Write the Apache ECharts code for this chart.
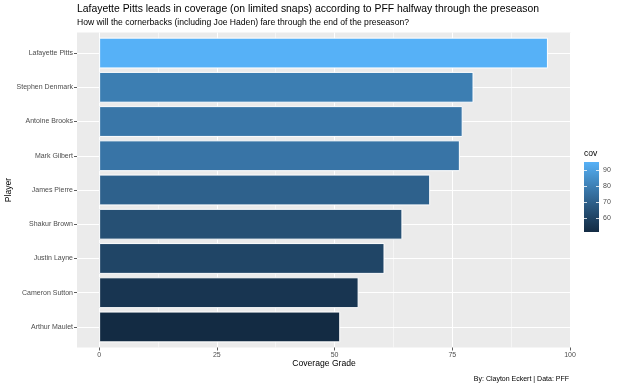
<!DOCTYPE html>
<html><head><meta charset="utf-8">
<script src="https://cdn.jsdelivr.net/npm/echarts@6/dist/echarts.min.js"></script>
<style>html,body{margin:0;padding:0;background:#fff}#c{width:620px;height:386px}</style>
</head><body><div id="c"></div><script>
// ---- data ----
const players = ['Lafayette Pitts','Stephen Denmark','Antoine Brooks','Mark Gilbert','James Pierre','Shakur Brown','Justin Layne','Cameron Sutton','Arthur Maulet'];
const grades = [95.3, 79.5, 77.2, 76.6, 70.3, 64.4, 60.6, 55.1, 51.2];
const xTicks = [0, 25, 50, 75, 100];
const xMinorTicks = [12.5, 37.5, 62.5, 87.5];
const legendTicks = [60, 70, 80, 90];
const titleText = 'Lafayette Pitts leads in coverage (on limited snaps) according to PFF halfway through the preseason';
const subtitleText = 'How will the cornerbacks (including Joe Haden) fare through the end of the preseason?';
const captionText = 'By: Clayton Eckert | Data: PFF';

// ---- colour scale (ggplot default gradient, Lab interpolation) ----
function hex2rgb(h){return [1,3,5].map(i=>parseInt(h.substr(i,2),16));}
function lin(c){c/=255;return c<=0.04045?c/12.92:Math.pow((c+0.055)/1.055,2.4);}
function unlin(c){c=c<=0.0031308?12.92*c:1.055*Math.pow(c,1/2.4)-0.055;return Math.max(0,Math.min(255,Math.round(c*255)));}
const W=[0.95047,1,1.08883];
function f(t){return t>0.008856?Math.cbrt(t):(7.787*t+16/116);}
function fi(t){return t>0.206893?t*t*t:(t-16/116)/7.787;}
function rgb2lab(rgb){const [r,g,b]=rgb.map(lin);
 const X=(0.4124*r+0.3576*g+0.1805*b)/W[0],Y=(0.2126*r+0.7152*g+0.0722*b)/W[1],Z=(0.0193*r+0.1192*g+0.9505*b)/W[2];
 return [116*f(Y)-16,500*(f(X)-f(Y)),200*(f(Y)-f(Z))];}
function lab2hex(l){const fy=(l[0]+16)/116,fx=fy+l[1]/500,fz=fy-l[2]/200;
 const X=fi(fx)*W[0],Y=fi(fy)*W[1],Z=fi(fz)*W[2];
 const r=3.2406*X-1.5372*Y-0.4986*Z,g=-0.9689*X+1.8758*Y+0.0415*Z,b=0.0557*X-0.2040*Y+1.0570*Z;
 return '#'+[r,g,b].map(c=>unlin(c).toString(16).padStart(2,'0')).join('');}
const lo=rgb2lab(hex2rgb('#132B43')),hi=rgb2lab(hex2rgb('#56B1F7'));
function colorAt(t){return lab2hex(lo.map((v,k)=>v+(hi[k]-v)*t));}

const FONT='"Liberation Sans", Arial, sans-serif';
const gMin=Math.min(...grades), gMax=Math.max(...grades);
const X_MIN=-4.7, X_MAX=100.2;
const P_LEFT=77, P_TOP=32.5, P_W=494, P_H=315;
const band=P_H/(players.length-1+1.2);
const gradStops=[];for(let i=0;i<=12;i++){gradStops.push({offset:i/12,color:colorAt(1-i/12)});}

const chart=echarts.init(document.getElementById('c'),null,{renderer:'canvas'});
chart.setOption({
 animation:false,
 textStyle:{fontFamily:FONT},
 title:[
  {text:titleText,left:77,top:4,padding:0,textStyle:{fontSize:10.4,fontWeight:'normal',color:'#000',fontFamily:FONT}},
  {text:subtitleText,left:77,top:18,padding:0,textStyle:{fontSize:8.6,fontWeight:'normal',color:'#000',fontFamily:FONT}},
  {text:captionText,right:51,top:376,padding:0,textStyle:{fontSize:7,fontWeight:'normal',color:'#000',fontFamily:FONT}},
  {text:'cov',left:584,top:149.5,padding:0,textStyle:{fontSize:8.6,fontWeight:'normal',color:'#000',fontFamily:FONT}}
 ],
 grid:[
  {left:P_LEFT,top:P_TOP,width:P_W,height:P_H,show:true,backgroundColor:'#EBEBEB',borderWidth:0,containLabel:false,outerBoundsMode:'none'},
  {left:P_LEFT,top:P_TOP+0.1*band,width:P_W,height:band*players.length,containLabel:false,outerBoundsMode:'none'},
  {left:584,top:162,width:15,height:70,containLabel:false,outerBoundsMode:'none'}
 ],
 xAxis:[
  {gridIndex:0,type:'value',min:X_MIN,max:X_MAX,position:'bottom',
   name:'Coverage Grade',nameLocation:'middle',nameGap:12,nameMoveOverlap:false,nameTextStyle:{fontSize:8.6,color:'#000',fontFamily:FONT},
   axisLine:{show:false,onZero:false},
   axisTick:{show:true,length:3,lineStyle:{color:'#333',width:0.8},customValues:xTicks},
   axisLabel:{show:true,fontSize:7,color:'#4D4D4D',margin:4,customValues:xTicks,fontFamily:FONT},
   splitLine:{show:true,lineStyle:{color:'#fff',width:1}}},
  {gridIndex:0,type:'value',min:X_MIN,max:X_MAX,position:'top',
   axisLine:{show:false,onZero:false},axisLabel:{show:false},
   axisTick:{show:false,customValues:xMinorTicks},
   splitLine:{show:true,lineStyle:{color:'#fff',width:0.5}}},
  {gridIndex:1,type:'value',min:X_MIN,max:X_MAX,show:false,axisLine:{onZero:false}},
  {gridIndex:2,type:'category',data:[''],show:false,axisLine:{onZero:false}}
 ],
 yAxis:[
  {gridIndex:0,type:'value',min:-0.6,max:players.length-1+0.6,inverse:true,
   name:'Player',nameLocation:'middle',nameGap:64,nameMoveOverlap:false,nameTextStyle:{fontSize:8.6,color:'#000',fontFamily:FONT},
   axisLine:{show:false,onZero:false},
   axisTick:{show:true,length:3,lineStyle:{color:'#333',width:0.8},customValues:players.map((p,i)=>i)},
   axisLabel:{show:true,fontSize:7,color:'#4D4D4D',margin:4,customValues:players.map((p,i)=>i),
     formatter:v=>players[Math.round(v)]||'',fontFamily:FONT},
   splitLine:{show:true,lineStyle:{color:'#fff',width:1}}},
  {gridIndex:1,type:'category',data:players,inverse:true,show:false,axisLine:{onZero:false}},
  {gridIndex:2,type:'value',min:gMin,max:gMax,position:'left',z:10,
   axisLine:{show:false,onZero:false},axisLabel:{show:false},splitLine:{show:false},
   axisTick:{show:true,inside:true,length:3,lineStyle:{color:'#fff',width:0.8},customValues:legendTicks}},
  {gridIndex:2,type:'value',min:gMin,max:gMax,position:'right',z:10,
   axisLine:{show:false,onZero:false},splitLine:{show:false},
   axisTick:{show:true,inside:true,length:3,lineStyle:{color:'#fff',width:0.8},customValues:legendTicks},
   axisLabel:{show:true,fontSize:7,color:'#4D4D4D',margin:4,customValues:legendTicks,fontFamily:FONT}}
 ],
 series:[
  {type:'bar',xAxisIndex:2,yAxisIndex:1,
   data:grades.map((g,i)=>({value:[g,players[i]],itemStyle:{color:colorAt((g-gMin)/(gMax-gMin))}})),
   barCategoryGap:'10%',
   itemStyle:{borderColor:'#ffffff',borderWidth:1},
   silent:true},
  {type:'bar',xAxisIndex:3,yAxisIndex:2,stack:'cb',barWidth:'100%',silent:true,
   data:[gMin],itemStyle:{color:'rgba(0,0,0,0)'}},
  {type:'bar',xAxisIndex:3,yAxisIndex:2,stack:'cb',barWidth:'100%',silent:true,
   data:[gMax-gMin],
   itemStyle:{color:new echarts.graphic.LinearGradient(0,0,0,1,gradStops)}}
 ]
});
</script></body></html>
